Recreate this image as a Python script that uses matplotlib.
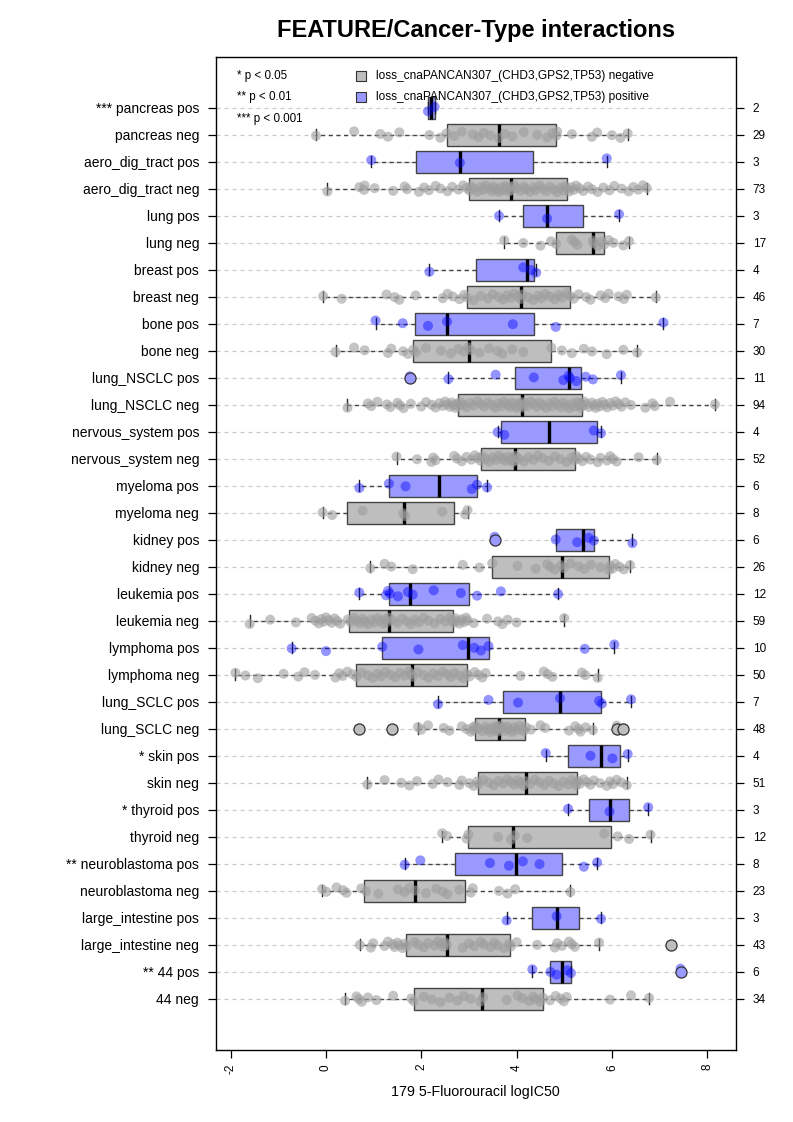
import numpy as np
import matplotlib
matplotlib.use('Agg')
import matplotlib.pyplot as plt

plt.rcParams['font.family'] = ['Liberation Sans', 'DejaVu Sans']

# ---------------- data (top row first) ----------------
row_labels = [
    "*** pancreas pos", "pancreas neg",
    "aero_dig_tract pos", "aero_dig_tract neg",
    "lung pos", "lung neg",
    "breast pos", "breast neg",
    "bone pos", "bone neg",
    "lung_NSCLC pos", "lung_NSCLC neg",
    "nervous_system pos", "nervous_system neg",
    "myeloma pos", "myeloma neg",
    "kidney pos", "kidney neg",
    "leukemia pos", "leukemia neg",
    "lymphoma pos", "lymphoma neg",
    "lung_SCLC pos", "lung_SCLC neg",
    "* skin pos", "skin neg",
    "* thyroid pos", "thyroid neg",
    "** neuroblastoma pos", "neuroblastoma neg",
    "large_intestine pos", "large_intestine neg",
    "** 44 pos", "44 neg",
]

pancreas_pos = [2.14, 2.28]
pancreas_neg = [-0.21, 0.59, 1.14, 1.30, 1.54, 2.17, 2.40, 2.53, 2.69, 2.85, 3.08, 3.20, 3.31, 3.45, 3.62,
                3.75, 3.91, 4.15, 4.43, 4.64, 4.75, 4.83, 4.85, 5.16, 5.58, 5.69, 6.00, 6.18, 6.33]
aero_pos = [0.95, 2.81, 5.89]
aero_neg = [0.03, 0.70, 0.80, 0.81, 1.02, 1.41, 1.65, 1.70, 1.95, 2.06, 2.16, 2.30, 2.40, 2.55, 2.65, 2.78, 2.88, 2.95,
            3.01, 3.05, 3.10, 3.18, 3.25, 3.30, 3.35, 3.42, 3.48, 3.52, 3.58, 3.62, 3.68, 3.72, 3.76, 3.80, 3.84, 3.87,
            3.89, 3.95, 4.00, 4.08, 4.15, 4.20, 4.28, 4.35, 4.40, 4.48, 4.55, 4.62, 4.70, 4.78, 4.85, 4.92, 4.97, 5.02,
            5.06, 5.10, 5.15, 5.20, 5.25, 5.32, 5.40, 5.50, 5.58, 5.70, 5.82, 5.95, 6.05, 6.20, 6.35, 6.45, 6.55, 6.65, 6.73]
lung_pos = [3.63, 4.64, 6.15]
lung_neg = [3.74, 4.14, 4.50, 4.72, 4.83, 5.16, 5.22, 5.28, 5.60, 5.62, 5.70, 5.77, 5.84, 5.93, 6.03, 6.24, 6.36]
breast_pos = [2.17, 4.14, 4.30, 4.41]
breast_neg = [-0.06, 0.33, 1.27, 1.44, 1.54, 1.88, 2.45, 2.55, 2.66, 2.80, 2.90, 2.96,
              3.10, 3.25, 3.40, 3.50, 3.62, 3.72, 3.80, 3.88, 3.95, 4.02, 4.08, 4.12,
              4.25, 4.35, 4.45, 4.52, 4.60, 4.70, 4.80, 4.88, 4.95, 5.05, 5.12,
              5.20, 5.30, 5.46, 5.55, 5.76, 5.86, 5.93, 6.14, 6.25, 6.31, 6.92]
bone_pos = [1.04, 1.61, 2.14, 2.54, 3.92, 4.82, 7.08]
bone_neg = [0.20, 0.59, 0.81, 1.30, 1.37, 1.62, 1.72, 1.83, 1.89, 2.10, 2.41, 2.62, 2.78, 2.90, 2.98, 3.04,
            3.22, 3.42, 3.60, 3.70, 3.91, 4.14, 4.73, 4.95, 5.16, 5.41, 5.58, 5.89, 6.24, 6.53]
nsclc_pos = [1.76, 2.57, 3.56, 4.36, 4.98, 5.09, 5.12, 5.25, 5.45, 5.60, 6.19]
nsclc_neg = [0.45, 0.88, 0.95, 1.08, 1.28, 1.35, 1.50, 1.55, 1.63, 1.78, 2.00, 2.10, 2.22, 2.30, 2.38, 2.45, 2.50,
             2.55, 2.60, 2.64, 2.68, 2.72, 2.75, 2.78,
             2.82, 2.88, 2.95, 3.02, 3.10, 3.18, 3.25, 3.32, 3.40, 3.48, 3.55, 3.62, 3.68, 3.74, 3.80, 3.86, 3.91,
             3.96, 4.00, 4.04, 4.07, 4.10, 4.11, 4.13,
             4.18, 4.24, 4.30, 4.36, 4.42, 4.48, 4.55, 4.62, 4.68, 4.74, 4.80, 4.86, 4.92, 4.98, 5.04, 5.10, 5.16,
             5.22, 5.27, 5.31, 5.34, 5.36, 5.38,
             5.42, 5.47, 5.52, 5.58, 5.62, 5.66, 5.70, 5.75, 5.80, 5.85, 5.90, 5.96, 6.02, 6.08, 6.14, 6.20, 6.28,
             6.40, 6.70, 6.85, 6.90, 7.22, 8.16]
nervous_pos = [3.60, 3.74, 5.62, 5.77]
nervous_neg = [1.48, 1.91, 2.21, 2.25, 2.30, 2.69, 2.75, 2.85, 2.95, 3.05, 3.12, 3.18, 3.24, 3.28,
               3.35, 3.42, 3.50, 3.57, 3.63, 3.70, 3.76, 3.82, 3.88, 3.92, 3.95, 3.96, 3.98,
               4.05, 4.15, 4.25, 4.35, 4.45, 4.55, 4.68, 4.80, 4.92, 5.05, 5.15, 5.21, 5.25,
               5.30, 5.38, 5.46, 5.55, 5.70, 5.76, 5.90, 5.96, 6.02, 6.10, 6.56, 6.94]
myeloma_pos = [0.70, 1.32, 1.67, 3.06, 3.17, 3.38]
myeloma_neg = [-0.07, 0.13, 0.77, 1.62, 1.66, 2.44, 2.92, 2.97]
kidney_pos = [3.54, 4.82, 5.27, 5.51, 5.62, 6.43]
kidney_neg = [0.93, 1.23, 1.37, 1.82, 2.87, 3.22, 3.49, 4.02, 4.40, 4.64, 4.71, 4.80, 4.93, 4.99,
              5.13, 5.30, 5.42, 5.56, 5.76, 5.94, 5.96, 6.02, 6.07, 6.16, 6.25, 6.38]
leukemia_pos = [0.70, 1.26, 1.30, 1.34, 1.51, 1.72, 1.82, 2.26, 2.83, 3.17, 3.67, 4.87]
leukemia_neg = [-1.60, -1.17, -0.63, -0.30, -0.22, -0.15, -0.10, -0.05, 0.00, 0.06, 0.12, 0.18, 0.24, 0.30,
                0.46, 0.52, 0.58, 0.64, 0.70, 0.76, 0.82, 0.88, 0.95, 1.02, 1.08, 1.14, 1.20, 1.25, 1.29, 1.32,
                1.40, 1.50, 1.60, 1.70, 1.78, 1.86, 1.95, 2.05, 2.15, 2.28, 2.40, 2.50, 2.60, 2.64, 2.68,
                2.72, 2.76, 2.80, 2.85, 2.90, 2.94, 2.97, 3.10, 3.38, 3.61, 3.70, 3.81, 4.00, 5.00]
lymphoma_pos = [-0.72, 0.00, 1.18, 1.94, 2.87, 3.11, 3.25, 3.41, 5.43, 6.05]
lymphoma_neg = [-1.90, -1.69, -1.43, -0.89, -0.58, -0.45, -0.23, 0.20, 0.28, 0.35, 0.45, 0.56, 0.64,
                0.75, 0.88, 0.98, 1.08, 1.16, 1.25, 1.35, 1.45, 1.55, 1.65, 1.74, 1.78, 1.82,
                1.92, 2.05, 2.15, 2.25, 2.35, 2.45, 2.55, 2.62, 2.70, 2.80, 2.88, 2.95,
                3.01, 3.12, 3.20, 3.28, 3.35, 4.08, 4.57, 4.65, 4.75, 5.37, 5.44, 5.70]
sclc_pos = [2.35, 3.41, 4.03, 4.91, 5.73, 5.79, 6.40]
sclc_neg = [0.69, 1.39, 1.93, 2.00, 2.14, 2.47, 2.59, 2.85, 2.95, 3.04, 3.08, 3.10, 3.14,
            3.20, 3.28, 3.35, 3.40, 3.45, 3.50, 3.54, 3.57, 3.59, 3.61, 3.61, 3.63,
            3.66, 3.70, 3.75, 3.80, 3.85, 3.90, 3.95, 4.00, 4.06, 4.12, 4.15, 4.19,
            4.30, 4.50, 4.60, 5.10, 5.23, 5.30, 5.34, 5.45, 5.60, 6.10, 6.24]
skin_pos = [4.61, 5.55, 6.01, 6.33]
skin_neg = [0.87, 1.23, 1.58, 1.75, 1.91, 2.24, 2.36, 2.55, 2.80, 2.85, 3.01, 3.10, 3.17, 3.21,
            3.30, 3.42, 3.52, 3.62, 3.72, 3.80, 3.88, 3.95, 4.02, 4.08, 4.14, 4.19,
            4.28, 4.38, 4.48, 4.58, 4.68, 4.78, 4.88, 4.98, 5.08, 5.15, 5.22, 5.25, 5.29,
            5.33, 5.41, 5.48, 5.55, 5.62, 5.75, 5.89, 5.96, 6.02, 6.10, 6.20, 6.31]
thyroid_pos = [5.08, 5.95, 6.76]
thyroid_neg = [2.44, 2.54, 2.95, 2.99, 3.61, 3.88, 3.96, 4.22, 5.84, 6.12, 6.36, 6.81]
neuro_pos = [1.65, 1.98, 3.44, 3.84, 4.13, 4.48, 5.41, 5.69]
neuro_neg = [-0.08, 0.01, 0.22, 0.36, 0.43, 0.74, 0.84, 1.10, 1.51, 1.65, 1.75, 1.87,
             2.10, 2.31, 2.45, 2.55, 2.80, 3.04, 3.08, 3.63, 3.81, 3.97, 5.13]
large_int_pos = [3.79, 4.84, 5.77]
large_int_neg = [0.71, 0.94, 0.99, 1.23, 1.30, 1.40, 1.44, 1.50, 1.54, 1.60, 1.65, 1.69,
                 1.86, 1.93, 2.05, 2.14, 2.28, 2.35, 2.42, 2.46, 2.50, 2.54,
                 2.87, 3.00, 3.11, 3.25, 3.31, 3.45, 3.53, 3.60, 3.74, 3.84, 3.88,
                 4.00, 4.43, 4.80, 4.85, 4.95, 5.10, 5.16, 5.22, 5.73, 7.24]
g44_pos = [4.33, 4.71, 4.84, 5.06, 5.14, 7.44]
g44_neg = [0.40, 0.64, 0.69, 0.75, 0.88, 1.06, 1.41, 1.79, 1.84,
           2.05, 2.22, 2.40, 2.59, 2.76, 2.89, 3.04, 3.24, 3.30,
           3.79, 4.02, 4.12, 4.26, 4.35, 4.40, 4.50, 4.55,
           4.70, 4.82, 4.92, 4.99, 5.05, 5.96, 6.40, 6.78]

groups = [pancreas_pos, pancreas_neg, aero_pos, aero_neg, lung_pos, lung_neg,
          breast_pos, breast_neg, bone_pos, bone_neg, nsclc_pos, nsclc_neg,
          nervous_pos, nervous_neg, myeloma_pos, myeloma_neg, kidney_pos, kidney_neg,
          leukemia_pos, leukemia_neg, lymphoma_pos, lymphoma_neg, sclc_pos, sclc_neg,
          skin_pos, skin_neg, thyroid_pos, thyroid_neg, neuro_pos, neuro_neg,
          large_int_pos, large_int_neg, g44_pos, g44_neg]

title = "FEATURE/Cancer-Type interactions"
xlabel = "179 5-Fluorouracil logIC50"
legend_sig = ["* p < 0.05", "** p < 0.01", "*** p < 0.001"]
legend_feat = ["loss_cnaPANCAN307_(CHD3,GPS2,TP53) negative",
               "loss_cnaPANCAN307_(CHD3,GPS2,TP53) positive"]
xticks = [-2, 0, 2, 4, 6, 8]

# ---------------- styling ----------------
GRAY_BOX = '#bebebe'
BLUE_BOX = '#9999ff'
GRAY_PT = (0.62, 0.62, 0.62)
BLUE_PT = (0.0, 0.0, 1.0)


def fivenum(x):
    x = np.sort(np.asarray(x, float))
    n = len(x)
    n4 = np.floor((n + 3) / 2) / 2
    d = np.array([1, n4, (n + 1) / 2, n + 1 - n4, n]) - 1
    return 0.5 * (x[np.floor(d).astype(int)] + x[np.ceil(d).astype(int)])


def rstats(x):
    x = np.sort(np.asarray(x, float))
    _, q1, med, q3, _ = fivenum(x)
    iqr = q3 - q1
    lo_f, hi_f = q1 - 1.5 * iqr, q3 + 1.5 * iqr
    inside = x[(x >= lo_f) & (x <= hi_f)]
    return dict(med=med, q1=q1, q3=q3, whislo=inside.min(), whishi=inside.max(),
                fliers=x[(x < lo_f) | (x > hi_f)])


W, H = 793, 1122
fig = plt.figure(figsize=(W / 100, H / 100), dpi=100)
L, R, T, B = 215.7, 736.0, 57.0, 1050.0
ax = fig.add_axes([L / W, 1 - B / H, (R - L) / W, (B - T) / H])

n = len(groups)
positions = np.arange(n, 0, -1)  # top row = n
is_pos = [lab.endswith('pos') for lab in row_labels]

ax.set_xlim(-2.314, 8.603)
ax.set_ylim(-0.9, 35.88)

# gridlines
for p in positions:
    ax.axhline(p, color='#c8c8c8', linestyle=(0, (3.2, 3.2)), linewidth=0.9, zorder=0)

stats = [rstats(g) for g in groups]
common = dict(positions=positions, widths=0.8, capwidths=0.4, patch_artist=True,
              showfliers=True, manage_ticks=False,
              boxprops=dict(edgecolor='#444444', linewidth=1.0),
              whiskerprops=dict(color='#444444', linestyle=(0, (3, 2.5)), linewidth=1.0),
              capprops=dict(color='#222222', linewidth=1.0),
              medianprops=dict(color='black', linewidth=2.4, solid_capstyle='butt'),
              flierprops=dict(marker='o', markersize=8, markeredgecolor='#333333',
                              markeredgewidth=0.9, linestyle='none'))
try:
    bp = ax.bxp(stats, orientation='horizontal', **common)
except TypeError:
    bp = ax.bxp(stats, vert=False, **common)

for i, box in enumerate(bp['boxes']):
    box.set_facecolor(BLUE_BOX if is_pos[i] else GRAY_BOX)
    box.set_zorder(2)
for i, fl in enumerate(bp['fliers']):
    fl.set_markerfacecolor(BLUE_BOX if is_pos[i] else GRAY_BOX)
    fl.set_zorder(6)
for art in bp['medians'] + bp['caps'] + bp['whiskers']:
    art.set_zorder(3)

# jittered points
golden = 0.6180339887
for i, g in enumerate(groups):
    vals = np.asarray(g, float)
    k = np.arange(len(vals))
    jit = 0.13 * (((k * golden + i * 0.37) % 1.0) * 2 - 1)
    if is_pos[i]:
        ax.scatter(vals, positions[i] + jit, s=52, color=BLUE_PT, alpha=0.42,
                   edgecolors='none', zorder=4)
    else:
        ax.scatter(vals, positions[i] + jit, s=52, color=GRAY_PT, alpha=0.6,
                   edgecolors='none', zorder=4)

# axes / ticks
ax.set_yticks(positions)
ax.set_yticklabels(row_labels, fontsize=10)
ax.tick_params(axis='y', direction='out', length=6, width=0.9, pad=6)
ax.set_xticks(xticks)
ax.set_xticklabels([str(t) for t in xticks], rotation=90, fontsize=8.5)
ax.tick_params(axis='x', direction='out', length=6, width=0.9, pad=4)
for s in ax.spines.values():
    s.set_linewidth(1.0)
    s.set_color('black')

ax2 = ax.twinx()
ax2.set_ylim(ax.get_ylim())
ax2.set_yticks(positions)
ax2.set_yticklabels([str(len(g)) for g in groups], fontsize=8.5)
ax2.tick_params(axis='y', direction='out', length=6, width=0.9, pad=6)
for s in ax2.spines.values():
    s.set_visible(False)

# legends (positions in axes fraction, from pixels)
def fx(px):
    return (px - L) / (R - L)


def fy(py):
    return (B - py) / (B - T)


for j, txt in enumerate(legend_sig):
    ax.text(fx(236.7), fy(75.7 + 21.5 * j), txt, transform=ax.transAxes,
            fontsize=8.4, ha='left', va='center', zorder=7)
for j, (txt, col) in enumerate(zip(legend_feat, [GRAY_BOX, BLUE_BOX])):
    ax.scatter([fx(361.2)], [fy(75.7 + 21.5 * j)], transform=ax.transAxes, marker='s',
               s=48, facecolor=col, edgecolor='#333333', linewidth=0.8, zorder=7, clip_on=False)
    ax.text(fx(376.5), fy(75.7 + 21.5 * j), txt, transform=ax.transAxes,
            fontsize=8.6, ha='left', va='center', zorder=7)

fig.text(((L + R) / 2) / W, 1 - 30 / H, title, ha='center', va='center',
         fontsize=17, fontweight='bold')
fig.text(((L + R) / 2) / W, 1 - 1092 / H, xlabel, ha='center', va='center', fontsize=10.3)

fig.savefig('out.png', dpi=100)
